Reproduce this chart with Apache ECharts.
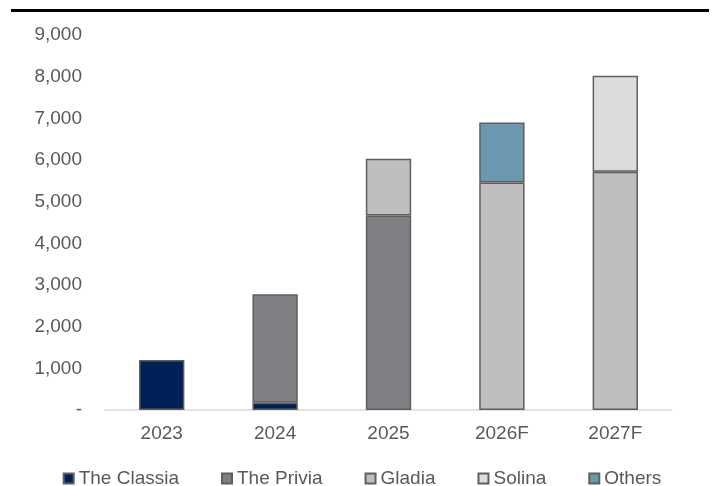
<!DOCTYPE html>
<html lang="en">
<head>
    <meta charset="UTF-8">
    <title>Stacked bars</title>
    <script type="text/javascript" src="https://cdn.jsdelivr.net/npm/echarts@6/dist/echarts.min.js"></script>
    <style>
        html, body { margin: 0; padding: 0; background: #fff; }
        #chart { width: 724px; height: 486px; }
    </style>
</head>
<body>
<div id="chart"></div>
<script>
    var years = ['2023', '2024', '2025', '2026F', '2027F'];
    var classia = [1200, 175, 0, 0, 0];
    var privia = [0, 2605, 4670, 0, 0];
    var gladia = [0, 0, 1360, 5460, 5720];
    var solina = [0, 0, 0, 0, 2300];
    var others = [0, 0, 0, 1440, 0];

    var font = 'Liberation Sans, Arial, sans-serif';

    function bar(name, data, color) {
        return {
            name: name,
            type: 'bar',
            stack: 'total',
            barWidth: '40%',
            data: data.map(function (v) { return v === 0 ? null : v; }),
            itemStyle: {color: color, borderColor: '#5f5f5f', borderWidth: 1.5}
        };
    }

    var mychart = echarts.init(document.getElementById('chart'));
    var option = {
        animation: false,
        grid: {left: 105, right: 52, top: 35, bottom: 76},
        legend: {
            top: 464,
            left: 'center',
            itemWidth: 10,
            itemHeight: 10,
            itemGap: 42,
            icon: 'rect',
            textStyle: {color: '#595959', fontSize: 19, fontFamily: font},
            data: ['The Classia', 'The Privia', 'Gladia', 'Solina', 'Others']
        },
        xAxis: {
            type: 'category',
            data: years,
            axisLine: {lineStyle: {color: '#d9d9d9', width: 1.5}},
            axisTick: {show: false},
            axisLabel: {color: '#595959', fontSize: 19, fontFamily: font, margin: 14}
        },
        yAxis: {
            type: 'value',
            min: 0,
            max: 9000,
            interval: 1000,
            splitLine: {show: false},
            axisLine: {show: false},
            axisTick: {show: false},
            axisLabel: {
                color: '#595959', fontSize: 19, fontFamily: font, margin: 23,
                formatter: function (v) { return v === 0 ? '-' : v.toLocaleString('en-US'); }
            }
        },
        graphic: [{
            type: 'rect',
            shape: {x: 11, y: 9, width: 698, height: 3},
            style: {fill: '#000'}
        }],
        series: [
            bar('The Classia', classia, '#002157'),
            bar('The Privia', privia, '#7f8084'),
            bar('Gladia', gladia, '#bebebe'),
            bar('Solina', solina, '#dcdcdc'),
            bar('Others', others, '#6b98ae')
        ]
    };
    mychart.setOption(option);
</script>
</body>
</html>
